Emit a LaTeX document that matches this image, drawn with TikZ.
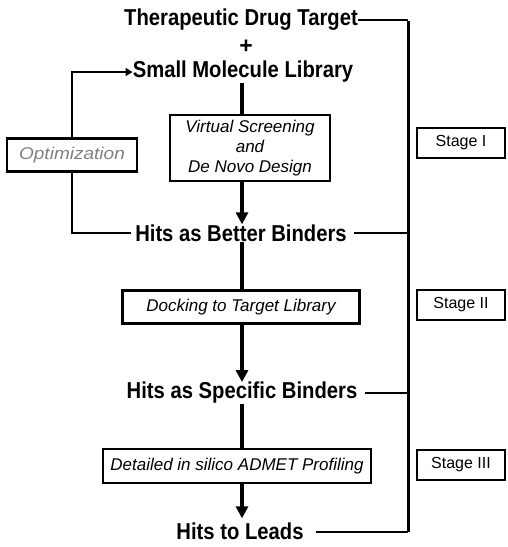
\documentclass[tikz,border=0pt]{standalone}
\usepackage{fontspec}
\setmainfont{Liberation Sans}
\usepackage{graphicx}
\usetikzlibrary{arrows.meta}
\newcommand\sx[1]{\scalebox{0.88}[1]{#1}}
\newcommand\wx[1]{\scalebox{1.12}[1]{#1}}
\begin{document}
\begin{tikzpicture}[x=1pt,y=-1pt,
  lbl/.style={font=\fontsize{23}{25}\selectfont\bfseries, inner sep=0pt},
  box/.style={draw, line width=2.2pt, font=\fontsize{17}{20}\selectfont\itshape, inner sep=0pt, align=center},
  stagebox/.style={draw, line width=2.2pt, font=\fontsize{16}{18}\selectfont, inner sep=0pt, minimum width=88pt, minimum height=30pt},
  thinline/.style={line width=2.4pt},
  flow/.style={line width=4pt, -{Triangle[width=12pt,length=12pt]}},
  stem/.style={line width=4pt}
]
\useasboundingbox (0,0) rectangle (508,547);
\node[lbl] (tdt) at (241,20) {\sx{Therapeutic Drug Target}};
\node[lbl] (plus) at (246,47) {+};
\node[lbl] (sml) at (243,72) {\sx{Small Molecule Library}};
\node[box, minimum width=160pt, minimum height=66pt] (vs) at (250,148) {Virtual Screening\\and\\De Novo Design};
\node[box, text=gray, minimum width=130pt, minimum height=33pt] (opt) at (72,155) {\wx{Optimization}};
\node[lbl] (hbb) at (241,233) {\sx{Hits as Better Binders}};
\node[box, minimum width=237pt, minimum height=33pt] (dock) at (241,307) {Docking to Target Library};
\node[lbl] (hsb) at (242,393) {\sx{Hits as Specific Binders}};
\node[box, minimum width=268pt, minimum height=34pt] (adm) at (237,466) {Detailed in silico ADMET Profiling};
\node[lbl] (htl) at (240,531) {\sx{Hits to Leads}};
\node[stagebox] (s1) at (461,143) {Stage I};
\node[stagebox] (s2) at (461,305) {Stage II};
\node[stagebox] (s3) at (461,465) {Stage III};
\coordinate (col) at (242,0);
\coordinate (railtop) at (408,21);
\coordinate (railbot) at (408,532);
% right rail
\draw[thinline] (tdt.east) -- (tdt.east -| railtop);
\draw[line width=3pt] (railtop) -- (railbot);
\draw[thinline] ([xshift=7pt]hbb.east) -- (hbb.east -| railtop);
\draw[thinline] ([xshift=7pt]hsb.east) -- (hsb.east -| railtop);
\draw[thinline] ([xshift=12pt]htl.east |- railbot) -- (railbot);
% main flow
\draw[stem] (col |- sml.south) -- (col |- vs.north);
\draw[flow] (col |- vs.south) -- (col |- hbb.north);
\draw[stem] (col |- hbb.south) -- (col |- dock.north);
\draw[flow] (col |- dock.south) -- (col |- hsb.north);
\draw[stem] (col |- hsb.south) -- (col |- adm.north);
\draw[flow] (col |- adm.south) -- ([yshift=4pt]col |- htl.north);
% optimization loop
\draw[thinline, -{Triangle[width=8pt,length=7pt]}] (opt.north) |- (sml.west);
\draw[thinline] (opt.south) |- ([xshift=-4pt]hbb.west);
\end{tikzpicture}
\end{document}
